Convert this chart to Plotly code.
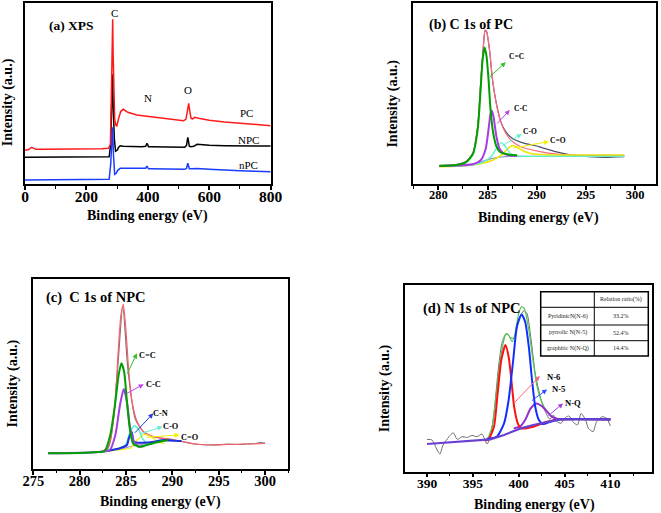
import plotly.graph_objects as go

FONT = "Liberation Serif"

# ---------------- (a) XPS survey ----------------
pc_x = [0, 10, 22, 35, 60, 100, 150, 200, 250, 272, 278, 281, 283, 285.5, 287, 289, 292, 296, 299, 305, 312, 320,
        335, 364, 400, 450, 500, 516, 524, 529, 533, 537, 541, 546, 553, 565, 600, 650, 700, 750, 800]
pc_y = [34, 34.5, 37, 35, 35, 35, 35.3, 35.3, 35.5, 36, 40, 85, 135, 165, 130, 90, 65, 59, 58.3, 66, 73, 75,
        72, 69.3, 68, 66, 64.3, 63.6, 65, 72, 81, 72, 66, 65.5, 67, 66, 64, 62.3, 61, 59.8, 58.6]
npc_x = [0, 50, 100, 150, 200, 250, 274, 279, 282, 285, 288, 291, 295, 300, 305, 310, 320, 350, 380, 393, 397, 399,
         402, 410, 450, 500, 520, 526, 530, 532, 535, 540, 550, 560, 580, 600, 650, 700, 750, 800]
npc_y = [27, 27, 27, 27, 27, 27, 27.5, 40, 80, 110, 70, 45, 33, 34, 37, 38.6, 38, 37.5, 37.5, 38, 41, 40,
         37.5, 37.5, 37.5, 37, 37, 39, 47, 44, 38, 37.5, 38, 40, 39.5, 39, 38.6, 38.6, 38.4, 38.3]
npc2_x = [0, 50, 100, 150, 200, 250, 274, 279, 282, 285, 288, 292, 297, 302, 310, 320, 350, 380, 393, 397, 399, 402,
          410, 450, 500, 520, 526, 530, 532, 535, 540, 550, 560, 600, 650, 700, 750, 800]
npc2_y = [4.3, 4.3, 4.3, 4.3, 4.5, 4.5, 5, 20, 45, 57, 30, 10, 11, 14, 16, 16, 15.5, 15.5, 16, 18.3, 17.5, 15.5,
          15.5, 15.3, 15, 15, 16, 21, 19, 15.5, 15.5, 16, 15.8, 15, 14, 13.5, 13, 12.6]
a_ticks = [0, 200, 400, 600, 800]

# ---------------- (b) C 1s of PC ----------------
b_raw_x = [280.1, 281.8, 282.8, 283.5, 284.0, 284.3, 284.6, 284.75, 284.9, 285.2, 285.5, 285.9, 286.35, 286.85,
           287.5, 288.5, 290.2, 291.9, 293.6, 295.3, 297.0, 298.9]
b_raw_y = [18.7, 19.7, 22.7, 31, 57.7, 101, 141, 153.7, 152.7, 134.3, 104.3, 81, 62.7, 52.7,
           46, 41.7, 37.7, 32.7, 29.3, 27.7, 27, 27.7]
b_env_x = [280.1, 281.8, 282.8, 283.5, 284.0, 284.3, 284.6, 284.75, 284.9, 285.2, 285.5, 285.9, 286.35, 286.85,
           287.5, 288.5, 290.2, 291.9, 293.6, 295.3, 297.0, 298.9]
b_env_y = [18.5, 19.5, 22.5, 31, 58, 101, 141, 154.3, 153, 135, 106, 80, 62, 51,
           43, 37, 33, 30.5, 29.3, 29, 29, 29]
b_cc2_x = [280.1, 281.8, 282.8, 283.5, 284.0, 284.3, 284.5, 284.7, 284.9, 285.1, 285.3, 285.6, 285.9, 286.3,
           287, 288]
b_cc2_y = [18.5, 19.3, 22, 30, 55, 95, 125, 136.7, 128, 105, 75, 50, 38, 32, 30, 29]
b_cc_x = [280.1, 282, 283.5, 284.3, 284.8, 285.1, 285.3, 285.43, 285.6, 285.9, 286.2, 286.6, 287.2, 288]
b_cc_y = [18.3, 18.7, 20, 24, 35, 55, 70, 73.7, 68, 48, 36, 31, 29, 28.5]
b_co_x = [280.1, 283, 284.5, 285.4, 285.9, 286.4, 286.8, 287.3, 288, 290, 295, 298.9]
b_co_y = [18, 19, 22, 28, 36, 41.7, 38, 31, 28.5, 28, 28, 28]
b_c2o_x = [280.1, 282, 284, 285.5, 286.5, 287.1, 287.5, 288, 288.7, 289.5, 291, 295, 298.9]
b_c2o_y = [17.5, 18, 20, 24, 30, 36, 38.7, 37, 33, 30.5, 29.5, 29.2, 29.2]
b_bg_x = [280.1, 282, 283.5, 284.5, 285.5, 286.5, 288, 290, 295, 298.9]
b_bg_y = [18.5, 19, 20.5, 23, 26, 27.5, 28, 28, 28, 28]
b_ticks = [280, 285, 290, 295, 300]

# ---------------- (c) C 1s of NPC ----------------
c_raw_x = [276.6, 280, 283, 284, 284.65, 285.2, 286, 287, 288, 289, 290, 291, 292, 293, 294, 295, 296, 297, 298,
           299, 299.5, 300]
c_raw_y = [15.7, 16, 20, 90, 163, 100, 50, 36, 32, 30.5, 29.5, 27.5, 25.5, 24.5, 24, 24.3, 24.8, 24.5, 25,
           25.5, 26.5, 25.8]
c_env_x = [276.6, 279, 281, 282.5, 283.2, 283.5, 283.8, 284.15, 284.45, 284.7, 284.95, 285.3, 285.65, 286.2,
           286.9, 288, 289.5, 291, 292.5, 294, 296, 298, 300]
c_env_y = [15.7, 16, 16.5, 18, 25, 40, 60.7, 117, 154, 164.7, 144, 97.3, 67.3, 47.3,
           37.3, 32.3, 30, 27.5, 25, 24, 24.5, 25, 25.5]
c_cc2_x = [276.6, 280, 282, 282.7, 283.3, 283.85, 284.2, 284.5, 284.8, 285.1, 285.4, 285.75, 286.4, 288, 289.5]
c_cc2_y = [15.7, 16, 17, 18, 34, 67, 94, 105.7, 97, 67, 40.7, 25.7, 22.3, 26, 29]
c_cc_x = [276.6, 282, 283.25, 283.85, 284.35, 284.75, 285.1, 285.45, 285.85, 286.4, 287]
c_cc_y = [15.7, 17, 19, 34, 64, 80, 67, 40.7, 27.3, 22.3, 23]
c_cn_x = [283, 284.35, 285.1, 285.3, 285.6, 285.85, 286.2, 286.9, 288, 289.1, 290.2, 291]
c_cn_y = [18, 20.7, 24, 30.7, 37.3, 27.3, 26.3, 26.3, 27.3, 29, 28.3, 28]
c_co_x = [283, 284.3, 284.95, 285.45, 285.9, 286.4, 286.75, 287.3, 288]
c_co_y = [18.5, 21, 24, 37.3, 43.3, 39, 30.7, 25.7, 25.7]
c_c2o_x = [283, 284.5, 285.45, 286.2, 286.95, 287.7, 288.4, 289.1]
c_c2o_y = [18, 19.5, 20.7, 29, 34.7, 32.3, 27.3, 25.7]
c_bg_x = [276.6, 282, 283.5, 284.5, 285.5, 286.5, 287.5, 288.5, 290]
c_bg_y = [15.7, 17, 18.5, 20, 22.5, 24.5, 26, 27.5, 28]
c_ticks = [275, 280, 285, 290, 295, 300]

# ---------------- (d) N 1s of NPC ----------------
d_raw_x = [390, 390.55, 391.1, 391.4, 391.75, 392.4, 392.85, 393.3, 393.8, 394.4, 394.9, 395.45, 396, 396.55,
           396.9, 397.3, 397.8, 398.2, 398.65, 399.1, 399.5, 400, 400.55, 400.9, 401.35, 401.8, 402.4, 402.9,
           403.4, 403.75, 404.2, 404.6, 405.1, 405.5, 405.9, 406.4, 406.8, 407.3, 407.6, 408.1, 408.5, 409.1,
           409.6, 410]
d_raw_y = [32.3, 31.7, 21.7, 17.7, 26.7, 35, 39, 32.3, 35, 34.3, 36.3, 35, 37.7, 27.7,
           35, 58.3, 105, 130, 138.3, 134.3, 133.3, 151.7, 161, 158.3, 131.7, 98.3, 73.3, 60,
           52.3, 56.7, 50, 48.3, 54.3, 55.7, 50, 46.7, 58.3, 51.7, 43.3, 40, 50, 55,
           53.3, 45.7]
d_env_x = [396.6, 397.1, 397.6, 398.1, 398.55, 398.8, 399.3, 399.6, 400, 400.3, 400.6, 401.1, 401.6, 402, 402.5,
           403.1, 403.8, 404.9, 410]
d_env_y = [32.3, 45, 81.7, 118.3, 136.7, 137.7, 130, 138.3, 158.3, 165, 163.3, 141.7, 108.3, 85, 70,
           60, 54, 52.3, 52.3]
d_n6_x = [396.3, 396.7, 397.3, 397.7, 398.1, 398.55, 398.9, 399.2, 399.5, 399.9, 400.25, 401.6, 403.1, 404.5, 410]
d_n6_y = [31.5, 32.3, 45, 78.3, 111.7, 126.7, 115, 91.7, 65, 48.3, 43.3, 45, 50, 52.3, 52.3]
d_n5_x = [396.5, 397.6, 398.4, 398.9, 399.4, 399.8, 400.3, 400.7, 401.1, 401.45, 401.8, 402.2, 402.65, 403.45,
          404.5, 410]
d_n5_y = [33, 35, 48.3, 71.7, 111.7, 145, 157.3, 150, 125, 91.7, 65, 51.7, 47.7, 50, 52.3, 52.3]
d_nq_x = [399.45, 400.2, 400.7, 401.3, 401.9, 402.5, 403.1, 403.6, 404.4]
d_nq_y = [43.3, 45.7, 51.7, 63.3, 68.3, 65.7, 60, 55, 52.3]
d_bg_x = [390, 396.9, 398.4, 400.2, 401.6, 403.1, 404.4, 410]
d_bg_y = [27.7, 32.3, 36.7, 43.3, 46.7, 50, 52.3, 52.3]
d_ticks = [390, 395, 400, 405, 410]

table_header = ["", "Relation ratio(%)"]
table_rows = ["PyridinicN(N-6)", "pyrrolic N(N-5)", "graphitic N(N-Q)"]
table_vals = ["33.2%", "52.4%", "14.4%"]

fig = go.Figure()


def line(x, y, color, w, axis, shape="spline"):
    fig.add_trace(go.Scatter(x=x, y=y, mode="lines", line=dict(color=color, width=w, shape=shape,
                                                                smoothing=0.6),
                             xaxis="x" + axis, yaxis="y" + axis, showlegend=False, hoverinfo="skip"))


# (a)
line(npc_x, npc_y, "#000000", 1.5, "", "linear")
line(pc_x, pc_y, "#ff1a1a", 1.5, "", "linear")
line(npc2_x, npc2_y, "#1a3cff", 1.5, "", "linear")
# (b)
line(b_raw_x, b_raw_y, "#505068", 1.2, "2")
line(b_env_x, b_env_y, "#ff6b81", 1.2, "2")
line(b_bg_x, b_bg_y, "#9096cc", 1.2, "2")
line(b_c2o_x, b_c2o_y, "#e8e800", 1.5, "2")
line(b_co_x, b_co_y, "#60f0c8", 1.3, "2")
line(b_cc_x, b_cc_y, "#a83be6", 2, "2")
line(b_cc2_x, b_cc2_y, "#00a000", 2, "2")
# (c)
line(c_raw_x, c_raw_y, "#707a68", 1.2, "3")
line(c_env_x, c_env_y, "#ff5a6e", 1.2, "3")
line(c_bg_x, c_bg_y, "#a896c8", 1.2, "3")
line(c_c2o_x, c_c2o_y, "#f0f020", 1.3, "3")
line(c_co_x, c_co_y, "#50f0c8", 1.5, "3")
line(c_cn_x, c_cn_y, "#2030e0", 2, "3")
line(c_cc_x, c_cc_y, "#a040e0", 2, "3")
line(c_cc2_x, c_cc2_y, "#00a000", 2, "3")
# (d)
line(d_raw_x, d_raw_y, "#6e6e6e", 1, "4", "spline")
line(d_env_x, d_env_y, "#50c850", 1.2, "4")
line(d_nq_x, d_nq_y, "#9030d0", 2, "4")
line(d_n6_x, d_n6_y, "#ff1010", 2, "4")
line(d_n5_x, d_n5_y, "#1030ff", 2, "4")
line(d_bg_x, d_bg_y, "#6a40d0", 2.2, "4", "linear")

domains = {
    "": ([25 / 661, 270.7 / 661], [1 - 184.3 / 513, 1 - 3.3 / 513], [0, 800], [0, 181], a_ticks, 100, 15.5, -7),
    "2": ([413.3 / 661, 655.7 / 661], [1 - 184.3 / 513, 1 - 3.3 / 513], [277.45, 302.1], [0, 181], b_ticks, 2.5,
          12.5, -6),
    "3": ([33.3 / 661, 288.3 / 661], [1 - 469 / 513, 1 - 279 / 513], [275, 302.5], [0, 190], c_ticks, 2.5, 14.5, -6),
    "4": ([405 / 661, 651.7 / 661], [1 - 471.7 / 513, 1 - 285 / 513], [387.6, 414.5], [0, 186.7], d_ticks, 2.5,
          13.5, -6),
}
layout = dict(width=661, height=513, margin=dict(l=0, r=0, t=0, b=0), paper_bgcolor="white",
              plot_bgcolor="white", showlegend=False)
for k, (dx, dy, xr, yr, tv, mdt, fs, so) in domains.items():
    layout["xaxis" + k] = dict(domain=dx, range=xr, anchor="y" + k, showline=True, mirror=True,
                               linecolor="black", linewidth=1.5, showgrid=False, zeroline=False,
                               automargin=False, ticklabelstandoff=so,
                               tickvals=tv, ticks="outside", ticklen=4, tickwidth=1.5, tickcolor="black",
                               minor=dict(ticks="outside", ticklen=2.5, dtick=mdt, tick0=tv[0],
                                          tickcolor="black", tickwidth=1.2),
                               tickfont=dict(family=FONT, size=fs, color="black", weight="bold"))
    layout["yaxis" + k] = dict(domain=dy, range=yr, anchor="x" + k, showline=True, mirror=True,
                               linecolor="black", linewidth=1.5, showgrid=False, zeroline=False,
                               automargin=False, showticklabels=False, ticks="")
fig.update_layout(**layout)

ann = []
bold = dict(family=FONT, size=14, color="black", weight="bold")
# axis titles
for x, y in [(147.8, 216), (538.3, 218.3), (160, 501.7), (534.5, 505)]:
    ann.append(dict(text="Binding energy (eV)", x=x / 661, y=1 - y / 513, xref="paper", yref="paper",
                    showarrow=False, font=bold, xanchor="center", yanchor="middle"))
for x, y in [(7.7, 102.5), (393.3, 103.3), (12.7, 383.7), (385, 388.3)]:
    ann.append(dict(text="Intensity (a.u.)", x=x / 661, y=1 - y / 513, xref="paper", yref="paper",
                    showarrow=False, font=bold, textangle=-90, xanchor="center", yanchor="middle"))
# panel titles
for t, x, y, s in [("(a) XPS", 46.7, 25, 13.5), ("(b) C 1s of PC", 427.3, 25, 14),
                   ("(c)  C 1s of NPC", 44.3, 297.7, 14.5), ("(d) N 1s of NPC", 420.7, 308.3, 14.5)]:
    ann.append(dict(text=t, x=x / 661, y=1 - y / 513, xref="paper", yref="paper", showarrow=False,
                    font=dict(family=FONT, size=s, color="black", weight="bold"),
                    xanchor="left", yanchor="middle"))
# (a) labels
for t, x, y in [("C", 293, 171.6), ("N", 399.5, 86), ("O", 529.7, 94.3), ("PC", 722, 71.6),
                ("NPC", 727, 44.3), ("nPC", 727, 19.3)]:
    ann.append(dict(text=t, x=x, y=y, xref="x", yref="y", showarrow=False,
                    font=dict(family=FONT, size=11, color="black")))


def arrow(ax_, tail, head, color, label, lpos, size):
    ann.append(dict(text="", x=head[0], y=head[1], ax=tail[0], ay=tail[1], xref="x" + ax_, yref="y" + ax_,
                    axref="x" + ax_, ayref="y" + ax_, showarrow=True, arrowhead=2, arrowsize=1,
                    arrowwidth=1, arrowcolor=color))
    ann.append(dict(text=label, x=lpos[0], y=lpos[1], xref="x" + ax_, yref="y" + ax_, showarrow=False,
                    font=dict(family=FONT, size=size, color="black", weight="bold")))


# (b)
arrow("2", (285.06, 106), (286.85, 122), "#30c030", "C=C", (287.9, 127.7), 7.5)
arrow("2", (285.84, 59.3), (287.26, 74.3), "#c040f0", "C-C", (288.3, 76), 7.5)
arrow("2", (286.35, 37.7), (288.48, 50.3), "#60f0d0", "C-O", (289.3, 52.7), 7.5)
arrow("2", (287.46, 36), (291.25, 42.7), "#f0f000", "C=O", (292.2, 43.7), 7.5)
# (c)
arrow("3", (285.07, 94), (286.17, 115.7), "#30c030", "C=C", (287.3, 114), 8.3)
arrow("3", (284.89, 74.7), (286.91, 84.7), "#c040f0", "C-C", (287.95, 84.7), 8.3)
arrow("3", (285.8, 34.7), (287.94, 55.7), "#2040e0", "C-N", (288.75, 55.7), 8.3)
arrow("3", (286.36, 34.7), (288.93, 42.3), "#60f0d0", "C-O", (289.85, 42.3), 8.3)
arrow("3", (287.1, 31.7), (290.77, 34), "#f0f000", "C=O", (291.9, 31.7), 8.3)
# (d)
arrow("4", (399.45, 68.3), (402.3, 95.7), "#ff6080", "N-6", (403.9, 95), 8.6)
arrow("4", (401.27, 70), (403.09, 82.3), "#3050ff", "N-5", (404.3, 82.3), 8.6)
arrow("4", (403.1, 55), (404.84, 68.3), "#a040e0", "N-Q", (405.9, 68.3), 8.6)

# table in (d): grid via shapes, text via annotations
tx0, tx1, txm = 540.7, 648.3, 594.3
ty = [291.7, 307.3, 325.0, 340.7, 356.0]
shapes = [dict(type="rect", xref="paper", yref="paper", x0=tx0 / 661, x1=tx1 / 661,
               y0=1 - ty[-1] / 513, y1=1 - ty[0] / 513, line=dict(color="black", width=1.5),
               fillcolor="white", layer="above")]
shapes.append(dict(type="line", xref="paper", yref="paper", x0=txm / 661, x1=txm / 661,
                   y0=1 - ty[-1] / 513, y1=1 - ty[0] / 513, line=dict(color="black", width=1)))
for yy in ty[1:-1]:
    shapes.append(dict(type="line", xref="paper", yref="paper", x0=tx0 / 661, x1=tx1 / 661,
                       y0=1 - yy / 513, y1=1 - yy / 513, line=dict(color="black", width=1)))
cells = [(table_header[0], table_header[1])] + list(zip(table_rows, table_vals))
tfont = dict(family=FONT, size=6, color="#222222")
for i, (c0, c1) in enumerate(cells):
    yc = 1 - (ty[i] + ty[i + 1]) / 2 / 513
    if c0:
        ann.append(dict(text=c0, x=(tx0 + txm) / 2 / 661, y=yc, xref="paper", yref="paper",
                        showarrow=False, font=tfont, xanchor="center", yanchor="middle"))
    ann.append(dict(text=c1, x=(txm + tx1) / 2 / 661, y=yc, xref="paper", yref="paper",
                    showarrow=False, font=tfont, xanchor="center", yanchor="middle"))

fig.update_layout(annotations=ann, shapes=shapes)
fig.write_html("out.html", config={"displayModeBar": False},
               post_script="document.body.style.margin='0px';")
